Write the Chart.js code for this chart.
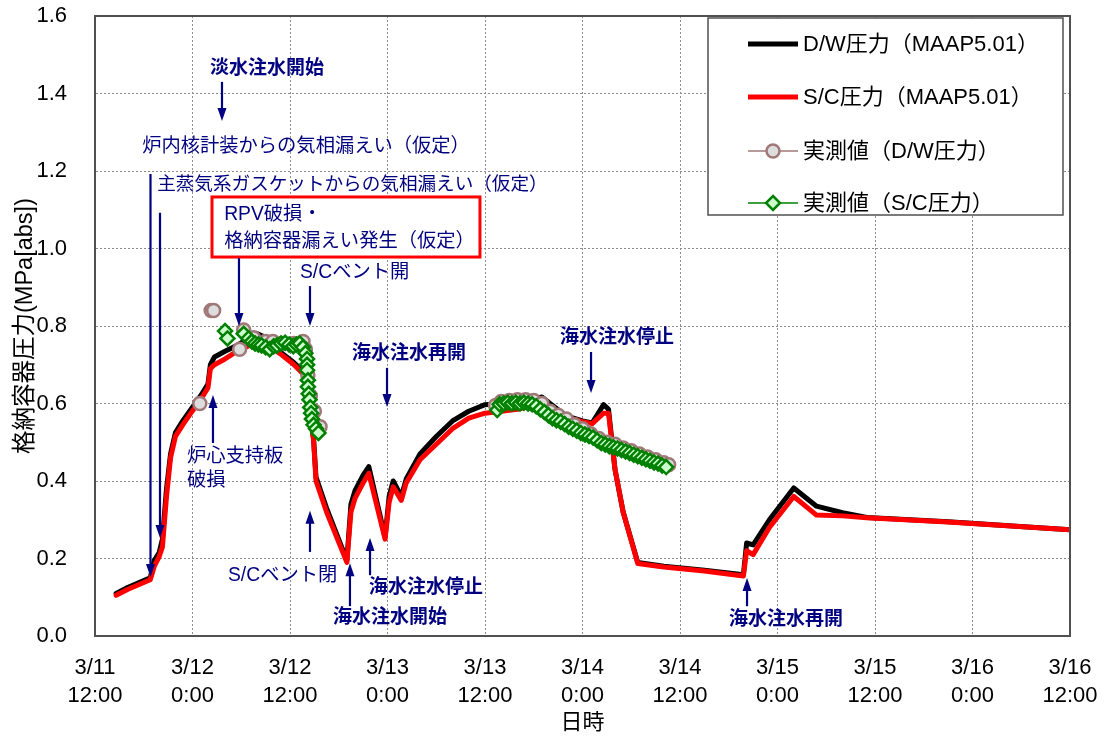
<!DOCTYPE html>
<html>
<head>
<meta charset="utf-8">
<script src="https://cdn.jsdelivr.net/npm/chart.js@4.4.0/dist/chart.umd.min.js"></script>
<style>
  html, body { margin: 0; padding: 0; background: #fff; }
  #wrap { width: 1105px; height: 742px; }
</style>
</head>
<body>
<div id="wrap"><canvas id="myChart"></canvas></div>
<script>
const FONT = '"Liberation Sans", "Noto Sans CJK JP", sans-serif';
const NAVY = '#000080';

const xTickLabels = [
  ['3/11', '12:00'], ['3/12', '0:00'], ['3/12', '12:00'], ['3/13', '0:00'], ['3/13', '12:00'],
  ['3/14', '0:00'], ['3/14', '12:00'], ['3/15', '0:00'], ['3/15', '12:00'], ['3/16', '0:00'], ['3/16', '12:00']
];

// hours since 3/11 12:00
const modelHours = [2.6, 4.0, 6.8, 7.3, 7.9, 8.3, 8.8, 9.3, 9.9, 10.8, 11.8, 13.0, 13.9, 14.2, 14.7, 16.0, 17.5, 19.0, 20.0, 21.0,
  22.0, 23.0, 24.5, 25.8, 26.9, 27.2, 28.5, 31.0, 31.5, 32.0, 33.0, 33.7, 35.7, 36.2, 36.7, 37.7, 38.3, 40.0, 42.0, 44.0,
  46.0, 48.0, 50.0, 52.0, 54.0, 55.0, 56.0, 58.0, 60.0, 61.2, 62.6, 63.2, 64.0, 65.0, 66.8, 70.0, 75.0, 79.8, 80.2, 81.0,
  83.0, 86.0, 88.8, 92.0, 95.0, 105.0, 120.0];
const dwModel = [0.11, 0.125, 0.15, 0.195, 0.215, 0.25, 0.38, 0.47, 0.525, 0.555, 0.585, 0.62, 0.65, 0.70, 0.72, 0.735, 0.75, 0.77, 0.78, 0.77,
  0.755, 0.73, 0.705, 0.68, 0.51, 0.41, 0.33, 0.195, 0.34, 0.375, 0.415, 0.437, 0.255, 0.36, 0.40, 0.36, 0.405, 0.47, 0.515, 0.555,
  0.58, 0.597, 0.60, 0.605, 0.612, 0.617, 0.60, 0.568, 0.555, 0.55, 0.597, 0.585, 0.43, 0.32, 0.19, 0.18, 0.17, 0.158, 0.24, 0.235,
  0.30, 0.382, 0.335, 0.318, 0.306, 0.295, 0.274];
const scModel = [0.105, 0.12, 0.145, 0.18, 0.205, 0.23, 0.36, 0.46, 0.515, 0.545, 0.575, 0.61, 0.64, 0.69, 0.70, 0.715, 0.735, 0.75, 0.755, 0.75,
  0.74, 0.725, 0.70, 0.672, 0.505, 0.40, 0.32, 0.19, 0.32, 0.355, 0.395, 0.42, 0.25, 0.345, 0.385, 0.35, 0.395, 0.455, 0.495, 0.535,
  0.562, 0.575, 0.58, 0.585, 0.595, 0.60, 0.59, 0.565, 0.553, 0.548, 0.575, 0.575, 0.43, 0.32, 0.187, 0.178, 0.168, 0.155, 0.22, 0.21,
  0.28, 0.36, 0.312, 0.31, 0.305, 0.294, 0.274];

const dwMeasHours = [12.9, 14.3, 14.6, 17.8, 18.3, 19.5, 21.0, 21.9, 23.0, 24.5, 25.6, 25.9, 26.2, 26.5, 27.0, 27.7,
  49.3, 50, 51, 52, 53, 54, 55, 56, 57, 58, 59, 60, 61, 62, 63, 64, 65, 66, 67, 68, 69, 70, 70.6];
const dwMeas = [0.60, 0.84, 0.84, 0.74, 0.79, 0.77, 0.76, 0.76, 0.755, 0.755, 0.76, 0.74, 0.673, 0.62, 0.58, 0.54,
  0.595, 0.605, 0.608, 0.61, 0.61, 0.608, 0.60, 0.58, 0.57, 0.56, 0.545, 0.535, 0.522, 0.51, 0.50, 0.495, 0.485, 0.478, 0.47, 0.462, 0.455, 0.447, 0.442];

const scMeasHours = [16.0, 16.3, 18.3, 18.9, 19.3, 19.7, 20.1, 20.5, 21.0, 21.5, 22.0, 22.4, 22.9, 23.4, 23.9, 24.4, 24.8, 25.2, 25.6, 25.9,
  26.1, 26.1, 26.1, 26.2, 26.2, 26.3, 26.4, 26.5, 26.6, 26.7, 26.9, 27.2, 27.5,
  49.5, 49.8, 50.3, 50.8, 51.3, 51.8, 52.3, 52.8, 53.3, 53.8, 54.3, 54.8, 55.3, 55.8, 56.3, 56.8, 57.3, 57.8, 58.3, 58.8,
  59.3, 59.8, 60.3, 60.8, 61.3, 61.8, 62.3, 62.8, 63.3, 63.8, 64.3, 64.8, 65.3, 65.8, 66.3, 66.8, 67.3, 67.8, 68.3, 68.8,
  69.3, 69.8, 70.3];
const scMeas = [0.787, 0.768, 0.78, 0.768, 0.76, 0.755, 0.752, 0.75, 0.745, 0.74, 0.748, 0.75, 0.755, 0.757, 0.752, 0.748, 0.752, 0.755, 0.745, 0.73,
  0.715, 0.70, 0.686, 0.66, 0.643, 0.625, 0.61, 0.59, 0.575, 0.56, 0.545, 0.535, 0.524,
  0.583, 0.598, 0.60, 0.602, 0.60, 0.602, 0.60, 0.602, 0.60, 0.598, 0.593, 0.585, 0.578, 0.57, 0.562, 0.557, 0.553, 0.547, 0.54, 0.535,
  0.53, 0.524, 0.52, 0.516, 0.512, 0.505, 0.498, 0.494, 0.49, 0.487, 0.484, 0.48, 0.476, 0.472, 0.468, 0.464, 0.46, 0.456, 0.452, 0.448,
  0.445, 0.44, 0.436];

const seriesNames = ['D/W圧力（MAAP5.01）', 'S/C圧力（MAAP5.01）', '実測値（D/W圧力）', '実測値（S/C圧力）'];

// annotations in data units (hours, MPa)
const notes = [
  { text: '淡水注水開始', h: 14.15, v: 1.463, bold: true },
  { text: '炉内核計装からの気相漏えい（仮定）', h: 5.8, v: 1.262 },
  { text: '主蒸気系ガスケットからの気相漏えい（仮定）', h: 7.65, v: 1.164, size: 18.6 },
  { text: 'RPV破損・', h: 15.9, v: 1.086 },
  { text: '格納容器漏えい発生（仮定）', h: 15.9, v: 1.017 },
  { text: 'S/Cベント開', h: 25.23, v: 0.937 },
  { text: '海水注水再開', h: 31.63, v: 0.728, bold: true },
  { text: '海水注水停止', h: 57.23, v: 0.769, bold: true },
  { text: '炉心支持板', h: 11.32, v: 0.462 },
  { text: '破損', h: 11.32, v: 0.40 },
  { text: 'S/Cベント閉', h: 16.37, v: 0.155 },
  { text: '海水注水開始', h: 29.29, v: 0.046, bold: true },
  { text: '海水注水停止', h: 33.72, v: 0.124, bold: true },
  { text: '海水注水再開', h: 78.03, v: 0.041, bold: true }
];
const arrows = [
  { h: 15.63, from: 1.43, to: 1.329 },
  { h: 6.83, from: 1.192, to: 0.152 },
  { h: 8.0, from: 1.092, to: 0.253 },
  { h: 17.72, from: 0.975, to: 0.80 },
  { h: 26.46, from: 0.903, to: 0.80 },
  { h: 35.94, from: 0.692, to: 0.591 },
  { h: 61.05, from: 0.733, to: 0.627 },
  { h: 14.52, from: 0.498, to: 0.622 },
  { h: 26.46, from: 0.217, to: 0.323 },
  { h: 31.38, from: 0.077, to: 0.188 },
  { h: 33.85, from: 0.157, to: 0.253 },
  { h: 80.25, from: 0.077, to: 0.150 }
];
const redBox = { h1: 14.4, h2: 47.38, v1: 1.133, v2: 0.978 };

const toXY = (xs, ys) => xs.map((x, i) => ({ x: x, y: ys[i] }));

function drawArrow(ctx, x, y1, y2) {
  const dir = y2 > y1 ? 1 : -1;
  ctx.strokeStyle = NAVY;
  ctx.fillStyle = NAVY;
  ctx.lineWidth = 2.2;
  ctx.beginPath();
  ctx.moveTo(x, y1);
  ctx.lineTo(x, y2 - dir * 10);
  ctx.stroke();
  ctx.beginPath();
  ctx.moveTo(x, y2);
  ctx.lineTo(x - 4.5, y2 - dir * 13);
  ctx.lineTo(x + 4.5, y2 - dir * 13);
  ctx.closePath();
  ctx.fill();
}

function legendSymbol(ctx, i, x, y) {
  ctx.save();
  if (i < 2) {
    ctx.strokeStyle = i === 0 ? '#000' : '#ff0000';
    ctx.lineWidth = 5;
    ctx.beginPath(); ctx.moveTo(x, y); ctx.lineTo(x + 50, y); ctx.stroke();
  } else {
    const stroke = i === 2 ? '#a07878' : '#008000';
    ctx.strokeStyle = stroke;
    ctx.lineWidth = 1.5;
    ctx.beginPath(); ctx.moveTo(x, y); ctx.lineTo(x + 50, y); ctx.stroke();
    ctx.lineWidth = 2.5;
    ctx.beginPath();
    if (i === 2) {
      ctx.arc(x + 25, y, 6.5, 0, Math.PI * 2);
      ctx.fillStyle = '#dddddd';
    } else {
      ctx.moveTo(x + 25, y - 7); ctx.lineTo(x + 32, y); ctx.lineTo(x + 25, y + 7); ctx.lineTo(x + 18, y); ctx.closePath();
      ctx.fillStyle = '#ccffcc';
    }
    ctx.fill(); ctx.stroke();
  }
  ctx.restore();
}

const overlay = {
  id: 'overlay',
  afterDraw(chart) {
    const { ctx, chartArea: ca, scales: { x, y } } = chart;
    ctx.save();
    // plot frame
    ctx.strokeStyle = '#505050';
    ctx.lineWidth = 2;
    ctx.strokeRect(ca.left, ca.top, ca.right - ca.left, ca.bottom - ca.top);

    // red box
    const bx1 = x.getPixelForValue(redBox.h1), bx2 = x.getPixelForValue(redBox.h2);
    const by1 = y.getPixelForValue(redBox.v1), by2 = y.getPixelForValue(redBox.v2);
    ctx.fillStyle = '#fff';
    ctx.fillRect(bx1, by1, bx2 - bx1, by2 - by1);
    ctx.strokeStyle = '#ff0000';
    ctx.lineWidth = 3;
    ctx.strokeRect(bx1, by1, bx2 - bx1, by2 - by1);

    // texts
    ctx.textAlign = 'left';
    ctx.textBaseline = 'middle';
    ctx.fillStyle = NAVY;
    notes.forEach(n => {
      ctx.font = n.bold ? 'bold 19px ' + FONT : (n.size || 19.3) + 'px ' + FONT;
      ctx.fillText(n.text, x.getPixelForValue(n.h), y.getPixelForValue(n.v));
    });
    arrows.forEach(a => {
      drawArrow(ctx, x.getPixelForValue(a.h), y.getPixelForValue(a.from), y.getPixelForValue(a.to));
    });

    // legend
    const lx = ca.right - 362, ly = ca.top + 2, lw = 355, lh = 197;
    ctx.fillStyle = '#fff';
    ctx.fillRect(lx, ly, lw, lh);
    ctx.strokeStyle = '#505050';
    ctx.lineWidth = 1.5;
    ctx.strokeRect(lx, ly, lw, lh);
    const rows = [26, 79, 133, 185];
    ctx.font = '22px ' + FONT;
    seriesNames.forEach((name, i) => {
      legendSymbol(ctx, i, lx + 40, ly + rows[i]);
      ctx.fillStyle = '#000';
      ctx.fillText(name, lx + 95, ly + rows[i] + 1);
    });
    ctx.restore();
  }
};

new Chart(document.getElementById('myChart'), {
  type: 'scatter',
  data: {
    datasets: [
      {
        label: seriesNames[3],
        data: toXY(scMeasHours, scMeas),
        showLine: false,
        pointStyle: 'rectRot',
        pointRadius: 7,
        pointBackgroundColor: '#ccffcc',
        pointBorderColor: '#008000',
        pointBorderWidth: 2.5,
        order: 0
      },
      {
        label: seriesNames[2],
        data: toXY(dwMeasHours, dwMeas),
        showLine: false,
        pointStyle: 'circle',
        pointRadius: 6.5,
        pointBackgroundColor: '#dddddd',
        pointBorderColor: '#a07878',
        pointBorderWidth: 2.5,
        order: 1
      },
      {
        label: seriesNames[1],
        data: toXY(modelHours, scModel),
        showLine: true,
        borderColor: '#ff0000',
        borderWidth: 5,
        pointRadius: 0,
        tension: 0,
        borderJoinStyle: 'round',
        borderCapStyle: 'round',
        order: 2
      },
      {
        label: seriesNames[0],
        data: toXY(modelHours, dwModel),
        showLine: true,
        borderColor: '#000000',
        borderWidth: 5,
        pointRadius: 0,
        tension: 0,
        borderJoinStyle: 'round',
        borderCapStyle: 'round',
        order: 3
      }
    ]
  },
  options: {
    responsive: true,
    maintainAspectRatio: false,
    animation: false,
    layout: { padding: { left: 0, top: 16, right: 35, bottom: 0 } },
    plugins: {
      legend: { display: false },
      tooltip: { enabled: false }
    },
    scales: {
      x: {
        type: 'linear',
        min: 0,
        max: 120,
        afterFit: s => { s.height = 106; s.paddingLeft = 0; s.paddingRight = 0; },
        ticks: {
          stepSize: 12,
          autoSkip: false,
          maxRotation: 0,
          padding: 18,
          color: '#000',
          font: { size: 22, family: FONT, lineHeight: 1.27 },
          callback: (v, i) => xTickLabels[i]
        },
        grid: { color: '#8c8c8c', lineWidth: 1, drawTicks: false },
        border: { color: '#505050', width: 2, dash: [2, 2] },
        title: { display: true, text: '日時', color: '#000', font: { size: 22, family: FONT }, padding: { bottom: 6 } }
      },
      y: {
        min: 0,
        max: 1.6,
        afterFit: s => { s.width = 95; s.paddingTop = 0; s.paddingBottom = 0; },
        ticks: {
          stepSize: 0.2,
          padding: 28,
          color: '#000',
          font: { size: 22, family: FONT },
          callback: v => v.toFixed(1)
        },
        grid: { color: '#8c8c8c', lineWidth: 1, drawTicks: false },
        border: { color: '#505050', width: 2, dash: [2, 2] },
        title: { display: true, text: '格納容器圧力(MPa[abs])', color: '#000', font: { size: 23.5, family: FONT }, padding: { top: 11 } }
      }
    }
  },
  plugins: [overlay]
});
</script>
</body>
</html>
